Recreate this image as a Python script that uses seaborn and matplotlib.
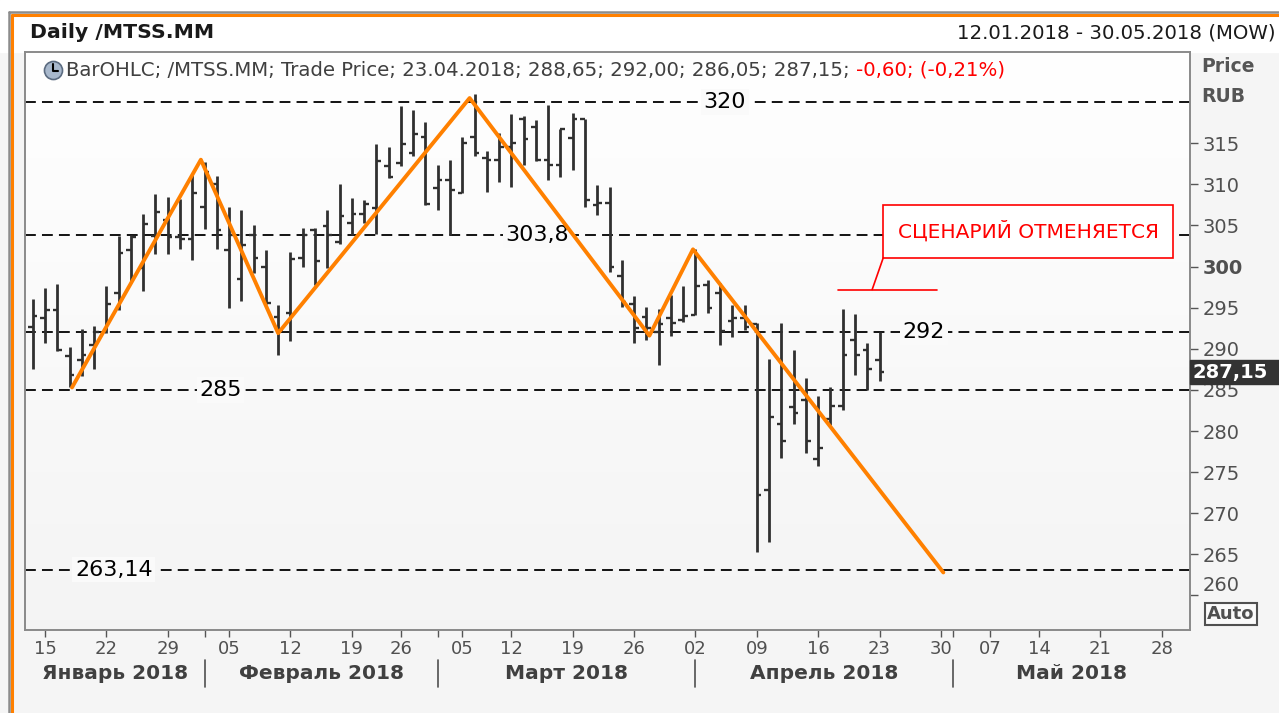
import numpy as np
import pandas as pd
import matplotlib
matplotlib.use('Agg')
import matplotlib.pyplot as plt
import seaborn as sns
from matplotlib.patches import Rectangle
from matplotlib.lines import Line2D
from matplotlib.colors import LinearSegmentedColormap
from matplotlib.transforms import ScaledTranslation, blended_transform_factory

# daily OHLC, 12.01.2018 .. 23.04.2018
opens = [292.7, 293.8, 294.7, 289.1, 288.6, 290.5, 292.0, 296.8, 302.0, 299.8,
         303.7, 305.7, 303.6, 303.4, 307.2, 310.1, 302.0, 298.5, 303.8, 300.0,
         293.9, 294.3, 301.0, 304.4, 304.9, 303.0, 305.3, 306.4, 307.1, 312.2,
         312.6, 313.8, 315.8, 309.5, 310.5, 308.9, 315.8, 313.2, 313.0, 314.6,
         318.0, 317.0, 313.0, 312.3, 315.7, 318.0, 307.5, 307.7, 298.8, 295.5,
         293.9, 292.0, 293.8, 293.5, 294.1, 297.8, 296.8, 293.4, 293.7, 293.0,
         272.8, 280.8, 282.9, 283.8, 276.6, 281.5, 283.0, 291.1, 289.9, 288.65]
highs = [296.0, 297.4, 297.9, 290.2, 292.4, 292.8, 297.7, 303.7, 303.8, 306.4,
         308.8, 308.5, 308.2, 311.1, 312.7, 311.0, 307.3, 306.9, 305.1, 302.0,
         295.3, 301.8, 304.7, 304.7, 306.9, 310.0, 308.4, 308.1, 314.9, 314.6,
         319.5, 319.0, 317.6, 312.4, 313.0, 315.8, 321.0, 314.0, 316.2, 318.6,
         318.3, 317.8, 319.7, 316.7, 318.7, 318.0, 309.9, 309.7, 300.8, 296.4,
         295.1, 294.9, 296.5, 297.6, 302.2, 298.4, 298.0, 295.3, 295.3, 293.1,
         288.8, 293.1, 289.9, 286.5, 284.3, 285.4, 294.9, 294.2, 290.7, 292.00]
lows = [287.5, 290.7, 289.7, 285.4, 286.7, 287.6, 291.9, 294.7, 298.3, 297.0,
        301.5, 301.5, 302.1, 300.8, 304.6, 302.2, 295.0, 295.8, 299.2, 295.5,
        289.2, 290.9, 300.0, 297.8, 299.8, 302.8, 303.8, 305.3, 304.0, 310.8,
        312.2, 313.4, 307.5, 306.9, 303.9, 308.9, 313.4, 309.1, 310.3, 309.7,
        312.3, 312.8, 310.5, 310.9, 311.8, 307.3, 306.3, 299.4, 295.1, 290.7,
        291.1, 288.0, 291.5, 293.3, 294.1, 294.3, 290.5, 291.4, 292.3, 265.3,
        266.5, 276.7, 280.9, 277.3, 275.8, 280.7, 282.6, 286.8, 285.0, 286.05]
closes = [294.0, 294.7, 289.9, 286.8, 289.3, 292.0, 295.5, 301.7, 303.6, 305.2,
          306.7, 303.6, 303.3, 309.0, 311.5, 304.4, 303.8, 302.6, 301.0, 295.6,
          292.3, 300.9, 303.8, 300.7, 303.8, 306.1, 306.4, 307.6, 312.8, 310.9,
          314.9, 316.1, 307.6, 310.5, 309.3, 315.0, 313.8, 313.0, 314.6, 315.0,
          315.5, 313.0, 312.3, 316.7, 318.0, 308.1, 307.7, 300.0, 295.7, 292.5,
          292.5, 293.0, 293.2, 294.0, 297.6, 295.0, 292.2, 293.8, 292.6, 272.2,
          281.7, 278.8, 282.2, 278.8, 277.9, 283.0, 289.3, 289.3, 287.6, 287.15]

# MOEX trading calendar
holidays = ['2018-02-23', '2018-03-08', '2018-05-01', '2018-05-09']
days = pd.bdate_range('2018-01-12', '2018-05-30')
days = days[~days.isin(pd.to_datetime(holidays))]

# orange wave (bar index, price)
wave_x = [3.2, 13.7, 20.0, 35.6, 50.25, 53.8, 74.2]
wave_y = [285.3, 313.0, 291.9, 320.5, 291.6, 302.1, 262.8]

levels = [320, 303.8, 292, 285, 263.14]
level_labels = ['320', '303,8', '292', '285', '263,14']
level_label_x = [56.4, 41.1, 72.6, 15.3, 6.6]

months = ['Январь 2018', 'Февраль 2018', 'Март 2018', 'Апрель 2018', 'Май 2018']
yticks = [260, 265, 270, 275, 280, 285, 290, 295, 300, 305, 310, 315]

df = pd.DataFrame({'date': days[:len(opens)], 'open': opens, 'high': highs,
                   'low': lows, 'close': closes})
df['x'] = np.arange(len(df))

sns.set_theme(style='white')
plt.rcParams['font.family'] = ['DejaVu Sans']

W, H = 1279, 713
fig = plt.figure(figsize=(W / 100, H / 100), dpi=100, facecolor='#f5f5f5')

# header strip + frame
fig.add_artist(Rectangle((0, 1 - 52 / H), 1, 52 / H, transform=fig.transFigure,
                         color='white', zorder=-5))
fig.add_artist(Line2D([9 / W, 1], [1 - 12 / H] * 2, color='#8c8c8c', lw=1.8, transform=fig.transFigure))
fig.add_artist(Line2D([9 / W] * 2, [0, 1 - 12 / H], color='#8c8c8c', lw=1.8, transform=fig.transFigure))
fig.add_artist(Line2D([12 / W, 1], [1 - 15 / H] * 2, color='#ff8000', lw=2.2, transform=fig.transFigure))
fig.add_artist(Line2D([12 / W] * 2, [0, 1 - 15 / H], color='#ff8000', lw=2.2, transform=fig.transFigure))

ax_l, ax_r, ax_t, ax_b = 25, 1190, 52, 630
ax = fig.add_axes([ax_l / W, 1 - ax_b / H, (ax_r - ax_l) / W, (ax_b - ax_t) / H])
bg = LinearSegmentedColormap.from_list('bg', ['#f4f4f4', '#ffffff'])
ax.imshow(np.linspace(0, 1, 256).reshape(-1, 1), extent=[0, 1, 0, 1], transform=ax.transAxes,
          cmap=bg, aspect='auto', origin='lower', zorder=0)

# OHLC bars
bar_c = '#303030'
ax.vlines(df['x'], df['low'], df['high'], color=bar_c, lw=2.0, zorder=4)
ax.hlines(df['open'], df['x'] - 0.38, df['x'], color=bar_c, lw=1.7, zorder=4)
ax.hlines(df['close'], df['x'], df['x'] + 0.38, color=bar_c, lw=1.7, zorder=4)

# levels
for lv, lab, lx in zip(levels, level_labels, level_label_x):
    ax.axhline(lv, color='black', lw=1.3, ls=(0, (6, 3.4)), zorder=2)
    ax.text(lx, lv, lab, ha='center', va='center', fontsize=16, color='black', zorder=3,
            bbox=dict(boxstyle='square,pad=0.12', fc='#fafafa', ec='none'))

sns.lineplot(x=wave_x, y=wave_y, sort=False, estimator=None, color='#ff8000', lw=2.8,
             ax=ax, zorder=5, legend=False)

# red note
red = '#ff0000'
ax.add_patch(Rectangle((69.3, 301.05), 23.6, 6.45, fc='white', ec=red, lw=1.2, zorder=6))
ax.text(81.1, 304.3, 'СЦЕНАРИЙ ОТМЕНЯЕТСЯ', ha='center', va='center', color=red,
        fontsize=14.5, zorder=7)
ax.plot([69.3, 68.4], [301.05, 297.2], color=red, lw=1.2, zorder=6)
ax.plot([65.6, 73.7], [297.2, 297.2], color=red, lw=1.2, zorder=6)

ax.set_xlim(-0.63, 94.3)
ax.set_ylim(255.8, 326.1)

# x axis: Mondays
mondays = [i for i, d in enumerate(days) if d.weekday() == 0 and i > 0]
ax.set_xticks(mondays)
ax.set_xticklabels([days[i].strftime('%d') for i in mondays])
month_start = [i for i in range(1, len(days)) if days[i].month != days[i - 1].month]
ax.set_xticks(month_start, minor=True)
ax.tick_params(axis='x', which='both', bottom=True, direction='out', length=5, width=1,
               color='#555555', labelsize=13, labelcolor='#505050', pad=2)

edges = [ax.get_xlim()[0]] + month_start + [ax.get_xlim()[1]]
tr = blended_transform_factory(ax.transData, ax.transAxes)
for k, name in enumerate(months):
    ax.text((edges[k] + edges[k + 1]) / 2, -0.075, name, transform=tr, ha='center', va='center',
            fontsize=14.5, fontweight='bold', color='#404040')
for m in month_start:
    ax.plot([m, m], [-0.052, -0.099], transform=tr, color='#505050', lw=1.2, clip_on=False)

# y axis on the right
ax.yaxis.tick_right()
ax.set_yticks(yticks)
ax.set_yticklabels([str(v) for v in yticks])
ax.tick_params(axis='y', right=True, direction='out', length=6, width=1, color='#555555',
               labelsize=14, labelcolor='#505050', pad=3)
for lbl in ax.get_yticklabels():
    if lbl.get_text() == '300':
        lbl.set_fontweight('bold')
    if lbl.get_text() == '260':
        lbl.set_transform(lbl.get_transform() + ScaledTranslation(0, 12 / 100, fig.dpi_scale_trans))

for s in ax.spines.values():
    s.set_color('#8a8a8a')
    s.set_linewidth(1.4)

# price tag
ptr = blended_transform_factory(fig.transFigure, ax.transData)
last = df['close'].iloc[-1]
fig.add_artist(Rectangle((1190 / W, last - 1.45), 89 / W, 2.9, transform=ptr,
                         color='#333333', zorder=10, clip_on=False))
fig.text(1193 / W, last, '287,15', transform=ptr, ha='left', va='center', color='white',
         fontsize=14, fontweight='bold', zorder=11)

# header texts
fig.text(30 / W, 1 - 33 / H, 'Daily /MTSS.MM', ha='left', va='center', fontsize=14.7,
         fontweight='bold', color='#1a1a1a')
fig.text(1276 / W, 1 - 33 / H, '12.01.2018 - 30.05.2018 (MOW)', ha='right', va='center',
         fontsize=14.2, color='#1a1a1a')
fig.text(1201 / W, 1 - 67 / H, 'Price', ha='left', va='center', fontsize=13.5,
         fontweight='bold', color='#555555')
fig.text(1201 / W, 1 - 97 / H, 'RUB', ha='left', va='center', fontsize=13.5,
         fontweight='bold', color='#555555')
fig.text(1231 / W, 1 - 614 / H, 'Auto', ha='center', va='center', fontsize=13,
         fontweight='bold', color='#505050',
         bbox=dict(boxstyle='square,pad=0.12', fc='#fafafa', ec='#505050', lw=1.5))

# legend line
fig.add_artist(Line2D([53 / W], [1 - 70 / H], marker='o', ms=13, mfc='#a8b8cc', mec='#5b6b80',
                      mew=1.2, transform=fig.transFigure))
fig.add_artist(Line2D([53 / W, 53 / W, 58 / W], [1 - 64 / H, 1 - 71 / H, 1 - 71 / H],
                      color='black', lw=1.5, transform=fig.transFigure))
t1 = fig.text(66 / W, 1 - 70 / H,
              'BarOHLC; /MTSS.MM; Trade Price; 23.04.2018; 288,65; 292,00; 286,05; 287,15; ',
              ha='left', va='center', fontsize=14.2, color='#404040')
plt.annotate('-0,60; (-0,21%)', xy=(1, 0.5), xycoords=t1, ha='left', va='center',
             fontsize=14.2, color=red, annotation_clip=False)

fig.savefig('out.png', dpi=100, facecolor=fig.get_facecolor())
